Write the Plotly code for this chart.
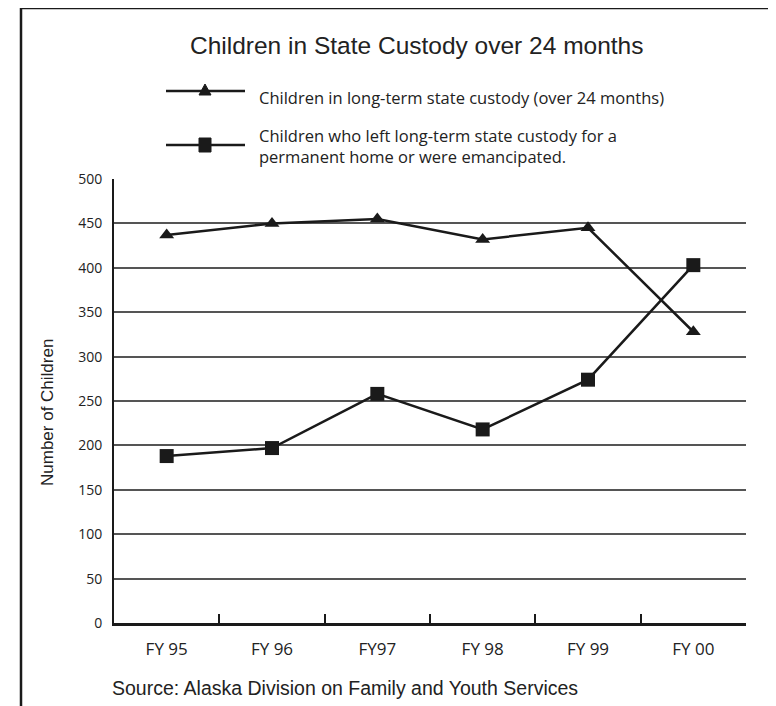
import plotly.graph_objects as go

categories = ["FY 95", "FY 96", "FY97", "FY 98", "FY 99", "FY 00"]
long_term = [437, 450, 455, 432, 445, 328]
left_custody = [188, 197, 258, 218, 274, 403]
y_ticks = [0, 50, 100, 150, 200, 250, 300, 350, 400, 450, 500]

title_text = "Children in State Custody over 24 months"
legend1 = "Children in long-term state custody (over 24 months)"
legend2a = "Children who left long-term state custody for a"
legend2b = "permanent home or were emancipated."
y_title = "Number of Children"
source_text = "Source: Alaska Division on Family and Youth Services"

# page body adds an 8px margin; work in page pixel coordinates
OFF = 8
W, H = 776 - OFF, 706 - OFF
PL, PR, PT, PB = 114, 746, 179, 623  # plot area in page pixels
L, R, T, B = PL - OFF, W - (PR - OFF), PT - OFF, H - (PB - OFF)
PW = PR - PL
PH = PB - PT


def px(x):
    return (x - PL) / PW


def py(y):
    return (PB - y) / PH


INK = "#1a1a1a"
fig = go.Figure()
fig.add_trace(go.Scatter(x=categories, y=long_term, mode="lines+markers",
                         line=dict(color=INK, width=2.5),
                         marker=dict(symbol="triangle-up", size=13, color=INK),
                         name=legend1, hoverinfo="skip"))
fig.add_trace(go.Scatter(x=categories, y=left_custody, mode="lines+markers",
                         line=dict(color=INK, width=2.5),
                         marker=dict(symbol="square", size=14, color=INK),
                         name=legend2a, hoverinfo="skip"))

shapes = []
# outer frame
shapes.append(dict(type="rect", xref="paper", yref="paper",
                   x0=px(21), x1=px(800), y0=py(730), y1=py(8),
                   line=dict(color=INK, width=2.5), layer="above"))
# legend samples
for yy in (91, 145):
    shapes.append(dict(type="line", xref="paper", yref="paper",
                       x0=px(166), x1=px(245), y0=py(yy), y1=py(yy),
                       line=dict(color=INK, width=2.5)))
# triangle
tx, ty = 205, 90
shapes.append(dict(type="path", xref="paper", yref="paper",
                   path=f"M {px(tx-6)},{py(ty+5)} L {px(tx+6)},{py(ty+5)} L {px(tx)},{py(ty-6)} Z",
                   fillcolor=INK, line=dict(color=INK, width=1)))
# square
sx, sy = 205, 145
shapes.append(dict(type="rect", xref="paper", yref="paper",
                   x0=px(sx-6), x1=px(sx+6), y0=py(sy+7), y1=py(sy-7),
                   fillcolor=INK, line=dict(color=INK, width=1)))

annotations = [
    dict(text=title_text, x=px(417), y=py(45), xref="paper", yref="paper",
         showarrow=False, xanchor="center", yanchor="middle",
         font=dict(family="Liberation Sans, Arial", size=24.5, color="#222")),
    dict(text=legend1, x=px(257), y=py(97), xref="paper", yref="paper",
         showarrow=False, xanchor="left", yanchor="middle",
         font=dict(family="Open Sans", size=16.5, color="#222")),
    dict(text=legend2a + "<br>" + legend2b, x=px(257), y=py(146),
         xref="paper", yref="paper", align="left",
         showarrow=False, xanchor="left", yanchor="middle",
         font=dict(family="Open Sans", size=16.5, color="#222")),
    dict(text=y_title, x=px(47), y=py(413), xref="paper", yref="paper",
         showarrow=False, xanchor="center", yanchor="middle", textangle=-90,
         font=dict(family="Liberation Sans, Arial", size=17, color="#222")),
    dict(text=source_text, x=px(110), y=py(688), xref="paper", yref="paper",
         showarrow=False, xanchor="left", yanchor="middle",
         font=dict(family="Liberation Sans, Arial", size=19.5, color="#222")),
]

fig.update_layout(
    width=W, height=H,
    margin=dict(l=L, r=R, t=T, b=B, pad=0),
    paper_bgcolor="white", plot_bgcolor="white",
    showlegend=False,
    shapes=shapes, annotations=annotations,
    xaxis=dict(type="category", range=[-0.5, 5.5], tickson="boundaries",
               ticks="inside", ticklen=9, tickwidth=2, tickcolor=INK,
               showline=True, linecolor=INK, linewidth=3,
               showgrid=False, zeroline=False,
               ticklabelstandoff=9,
               tickfont=dict(family="Open Sans", size=17, color="#222")),
    yaxis=dict(range=[0, 500], tickvals=y_ticks,
               showline=True, linecolor=INK, linewidth=2,
               showgrid=True, gridcolor="#555", gridwidth=1.5,
               zeroline=False, ticks="", ticklabelstandoff=7,
               tickfont=dict(family="Open Sans", size=14, color="#222")),
)

fig.write_html("out.html")
